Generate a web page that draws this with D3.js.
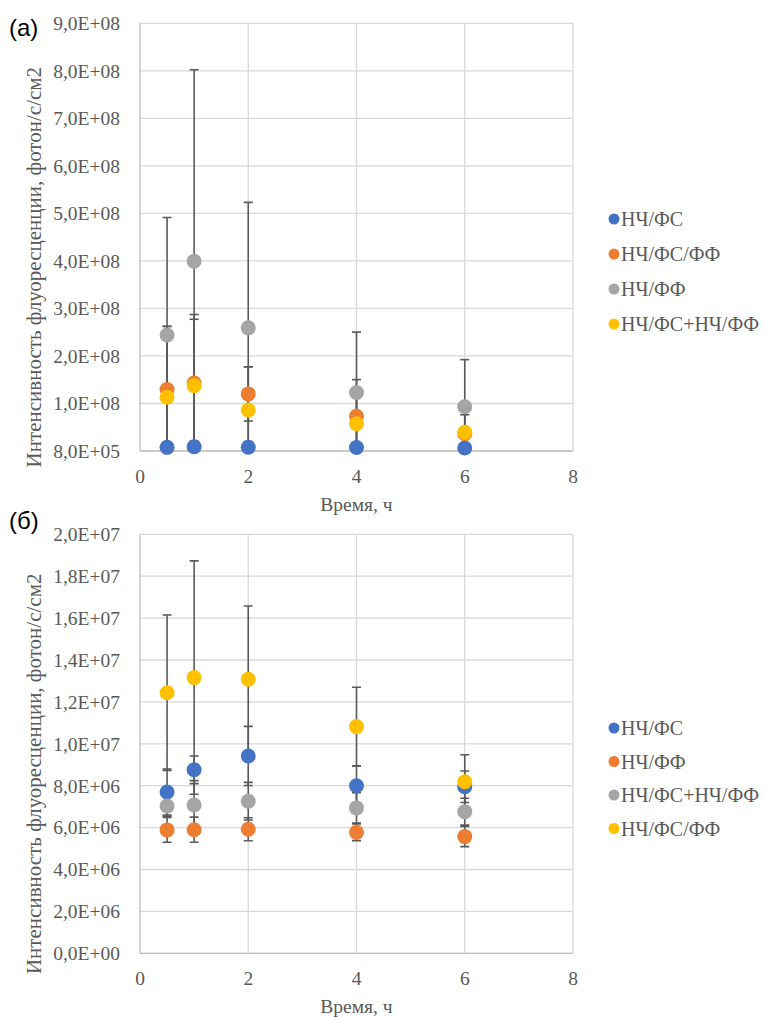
<!DOCTYPE html>
<html>
<head>
<meta charset="utf-8">
<script src="https://cdn.jsdelivr.net/npm/d3@7"></script>
<style>
  body { margin: 0; background: #fff; }
  svg { display: block; }
  svg text.serif { font-family: 'Times New Roman', Times, 'Liberation Serif', 'DejaVu Serif', serif; }
  svg text.sans { font-family: Arial, 'Liberation Sans', sans-serif; }
</style>
</head>
<body>
<svg width="765" height="1017"></svg>
<script>
// time points, h
const times = [0.5, 1, 2, 4, 6]
const xTicks = [0, 2, 4, 6, 8]

// chart (a)
const aNames = ['НЧ/ФС', 'НЧ/ФС/ФФ', 'НЧ/ФФ', 'НЧ/ФС+НЧ/ФФ']
const aValues = [
    [8.5e6, 9.8e6, 8.6e6, 8.2e6, 7.0e6],
    [1.30e8, 1.44e8, 1.21e8, 0.74e8, 0.37e8],
    [2.45e8, 4.00e8, 2.60e8, 1.24e8, 0.94e8],
    [1.14e8, 1.38e8, 0.87e8, 0.58e8, 0.40e8]
]
const aErrors = [
    [1.0e7, 1.2e7, 1.2e7, 0.9e7, 0.8e7],
    [1.33e8, 1.44e8, 0.57e8, 0.77e8, 0.40e8],
    [2.47e8, 4.03e8, 2.64e8, 1.27e8, 0.99e8],
    [1.49e8, 1.40e8, 0.91e8, 0.60e8, 0.45e8]
]
const aYTicks = [8e5, 1.008e8, 2.008e8, 3.008e8, 4.008e8, 5.008e8, 6.008e8, 7.008e8, 8.008e8, 9.008e8]
const aYLabels = ['8,0E+05', '1,0E+08', '2,0E+08', '3,0E+08', '4,0E+08', '5,0E+08', '6,0E+08', '7,0E+08', '8,0E+08', '9,0E+08']

// chart (б)
const bNames = ['НЧ/ФС', 'НЧ/ФФ', 'НЧ/ФС+НЧ/ФФ', 'НЧ/ФС/ФФ']
const bValues = [
    [7.70e6, 8.76e6, 9.42e6, 8.00e6, 7.95e6],
    [5.89e6, 5.90e6, 5.92e6, 5.78e6, 5.57e6],
    [7.03e6, 7.08e6, 7.26e6, 6.94e6, 6.76e6],
    [12.44e6, 13.16e6, 13.08e6, 10.82e6, 8.19e6]
]
const bErrors = [
    [1.10e6, 0.66e6, 1.41e6, 0.95e6, 0.75e6],
    [0.59e6, 0.60e6, 0.55e6, 0.40e6, 0.48e6],
    [0.48e6, 1.16e6, 0.90e6, 0.72e6, 0.64e6],
    [3.71e6, 5.57e6, 3.50e6, 1.88e6, 1.29e6]
]
const bYTicks = [0, 2e6, 4e6, 6e6, 8e6, 1e7, 1.2e7, 1.4e7, 1.6e7, 1.8e7, 2e7]
const bYLabels = ['0,0E+00', '2,0E+06', '4,0E+06', '6,0E+06', '8,0E+06', '1,0E+07', '1,2E+07', '1,4E+07', '1,6E+07', '1,8E+07', '2,0E+07']

const colors = ['#4472C4', '#ED7D31', '#A5A5A5', '#FFC000']

const svg = d3.select('svg')
const textColor = '#595959'

const drawChart = (opt) => {
    const left = 140, right = 573,
        top = opt.top, bottom = opt.bottom,
        r = 7.5, cap = 4.5

    const x = d3.scaleLinear().domain([0, 8]).range([left, right])
    const y = d3.scaleLinear().domain(opt.yDomain).range([bottom, top])

    const g = svg.append('g')

    // clip for error bars
    g.append('clipPath')
        .attr('id', opt.id)
        .append('rect')
        .attr('x', left).attr('y', top)
        .attr('width', right - left).attr('height', bottom - top)

    // gridlines
    g.append('g')
        .selectAll('line')
        .data(opt.yTicks)
        .enter().append('line')
        .attr('x1', left).attr('x2', right)
        .attr('y1', d => y(d)).attr('y2', d => y(d))
        .attr('stroke', '#d9d9d9').attr('stroke-width', 1.3)
    g.append('g')
        .selectAll('line')
        .data(xTicks)
        .enter().append('line')
        .attr('x1', d => x(d)).attr('x2', d => x(d))
        .attr('y1', top).attr('y2', bottom)
        .attr('stroke', d => d === 0 ? '#bfbfbf' : '#d9d9d9').attr('stroke-width', 1.3)
    g.append('line')
        .attr('x1', left).attr('x2', right)
        .attr('y1', bottom).attr('y2', bottom)
        .attr('stroke', '#bfbfbf').attr('stroke-width', 1.3)

    // y tick labels
    g.append('g')
        .selectAll('text')
        .data(opt.yTicks)
        .enter().append('text')
        .attr('class', 'serif')
        .attr('x', 120)
        .attr('y', d => y(d))
        .attr('dy', '0.35em')
        .attr('text-anchor', 'end')
        .attr('font-size', 19.5)
        .attr('fill', textColor)
        .text((d, i) => opt.yLabels[i])

    // x tick labels
    g.append('g')
        .selectAll('text')
        .data(xTicks)
        .enter().append('text')
        .attr('class', 'serif')
        .attr('x', d => x(d))
        .attr('y', bottom + 32)
        .attr('text-anchor', 'middle')
        .attr('font-size', 19.5)
        .attr('fill', textColor)
        .text(d => d)

    // axis titles
    g.append('text')
        .attr('class', 'serif')
        .attr('x', (left + right) / 2)
        .attr('y', bottom + 60)
        .attr('text-anchor', 'middle')
        .attr('font-size', 19.5)
        .attr('fill', textColor)
        .text('Время, ч')

    g.append('text')
        .attr('class', 'serif')
        .attr('transform', `translate(41,${(top + bottom) / 2 + 30}) rotate(-90)`)
        .attr('text-anchor', 'middle')
        .attr('font-size', 21)
        .attr('fill', textColor)
        .text('Интенсивность флуоресценции, фотон/с/см2')

    // panel letter
    g.append('text')
        .attr('class', 'sans')
        .attr('x', 9)
        .attr('y', opt.letterY)
        .attr('font-size', 24)
        .attr('fill', '#000')
        .text(opt.letter)

    // error bars
    const errs = g.append('g').attr('clip-path', `url(#${opt.id})`)
    opt.values.forEach((vals, s) => {
        vals.forEach((v, i) => {
            const e = opt.errors[s][i], cx = x(times[i])
            const y1 = y(v + e), y2 = y(v - e)
            errs.append('line')
                .attr('x1', cx).attr('x2', cx)
                .attr('y1', y1).attr('y2', y2)
                .attr('stroke', '#595959').attr('stroke-width', 1.6)
            ;[y1, y2].forEach(cy => {
                errs.append('line')
                    .attr('x1', cx - cap).attr('x2', cx + cap)
                    .attr('y1', cy).attr('y2', cy)
                    .attr('stroke', '#595959').attr('stroke-width', 1.6)
            })
        })
    })

    // markers
    opt.values.forEach((vals, s) => {
        g.append('g')
            .selectAll('circle')
            .data(vals)
            .enter().append('circle')
            .attr('cx', (d, i) => x(times[i]))
            .attr('cy', d => y(d))
            .attr('r', r)
            .attr('fill', colors[s])
    })

    // legend
    const legend = g.append('g')
    opt.names.forEach((n, s) => {
        const ly = opt.legendY + s * opt.legendStep
        legend.append('circle')
            .attr('cx', 614).attr('cy', ly).attr('r', 5.5)
            .attr('fill', colors[s])
        legend.append('text')
            .attr('class', 'serif')
            .attr('x', 621).attr('y', ly)
            .attr('dy', '0.35em')
            .attr('font-size', 20)
            .attr('fill', textColor)
            .text(n)
    })
}

drawChart({
    id: 'clipA', top: 23.3, bottom: 451,
    yDomain: [8e5, 9.008e8], yTicks: aYTicks, yLabels: aYLabels,
    names: aNames, values: aValues, errors: aErrors,
    legendY: 219, legendStep: 35, letter: '(a)', letterY: 36
})

drawChart({
    id: 'clipB', top: 534.3, bottom: 953.3,
    yDomain: [0, 2e7], yTicks: bYTicks, yLabels: bYLabels,
    names: bNames, values: bValues, errors: bErrors,
    legendY: 728, legendStep: 33.5, letter: '(б)', letterY: 529
})
</script>
</body>
</html>
